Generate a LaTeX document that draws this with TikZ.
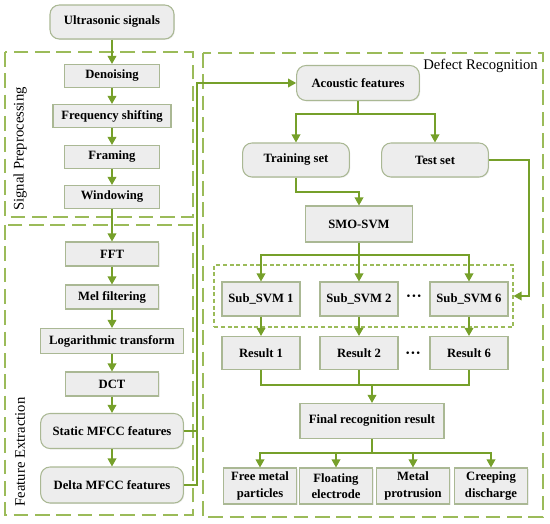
\documentclass[tikz,border=0pt]{standalone}
\usepackage{fontspec}
\setmainfont{Liberation Serif}
\usetikzlibrary{arrows.meta,shadows}
\definecolor{dashgreen}{HTML}{9BBB59}
\definecolor{linegreen}{HTML}{76A02A}
\definecolor{boxborder}{HTML}{AAB894}
\definecolor{boxfill}{HTML}{EDEDED}
\tikzset{
  box/.style={draw=boxborder, line width=0.8pt, fill=boxfill, inner sep=0pt,
    font=\fontsize{9.5}{12.5}\selectfont\bfseries, align=center,
    drop shadow={opacity=0.15, shadow xshift=0.7pt, shadow yshift=-0.7pt}},
  rbox/.style={box, rounded corners=7pt},
  sz/.style 2 args={minimum width=#1pt, minimum height=#2pt},
  conn/.style={draw=linegreen, line width=1pt},
  arr/.style={conn, -{Triangle[width=6.5pt,length=6pt]}},
  group/.style={draw=dashgreen, line width=1.6pt, dash pattern=on 11pt off 5pt},
  subgroup/.style={draw=dashgreen, line width=1.1pt, dash pattern=on 3pt off 2pt, inner sep=0pt},
  grouplabel/.style={font=\fontsize{11}{13}\selectfont, inner sep=0pt},
  dots/.style={font=\fontsize{12}{12}\selectfont\bfseries, inner sep=0pt}
}
\begin{document}
\begin{tikzpicture}[x=0.75pt, y=-0.75pt]
\useasboundingbox (0,0) rectangle (550,524);
% group frames
\draw[group] (5,52) rectangle (193,217);
\draw[group] (5,225) rectangle (193,515);
\draw[group] (203,53) rectangle (543,517);
\node[grouplabel, rotate=90] (lsp) at (20,149) {Signal Preprocessing};
\node[grouplabel, rotate=90] (lfe) at (20,452) {Feature Extraction};
\node[grouplabel, anchor=east] (ldr) at (538,66) {Defect Recognition};
% left column
\node[rbox, sz={93}{25.5}] (us) at (112,22) {Ultrasonic signals};
\node[box, sz={71.25}{17.25}] (den) at (112,76) {Denoising};
\node[box, sz={88.5}{17.25}] (freq) at (112,116) {Frequency shifting};
\node[box, sz={71.25}{17.25}] (fram) at (112,157) {Framing};
\node[box, sz={71.25}{17.25}] (win) at (112,197) {Windowing};
\node[box, sz={70}{18}] (fft) at (112,254) {FFT};
\node[box, sz={70}{18}] (mel) at (112,297) {Mel filtering};
\node[box, sz={107}{18.75}] (log) at (112,341) {Logarithmic transform};
\node[box, sz={70}{18}] (dct) at (112,384) {DCT};
\node[rbox, sz={107}{26.25}] (static) at (112,431) {Static MFCC features};
\node[rbox, sz={107}{27}] (delta) at (112,485) {Delta MFCC features};
% right column
\node[rbox, sz={92}{26.25}] (ac) at (358,83) {Acoustic features};
\node[rbox, sz={80}{25.5}] (train) at (296,160) {Training set};
\node[rbox, sz={80}{25.5}] (test) at (435,160) {Test set};
\node[box, sz={80}{27}] (smo) at (359,224) {SMO-SVM};
\node[subgroup, sz={224}{46.5}] (grp) at (363.5,296) {};
\node[box, sz={58.5}{25.5}] (sub1) at (261,299) {Sub\_SVM 1};
\node[box, sz={58.5}{25.5}] (sub2) at (359,299) {Sub\_SVM 2};
\node[box, sz={58.5}{25.5}] (sub6) at (469,299) {Sub\_SVM 6};
\node[dots] (d1) at (414,298) {···};
\node[box, sz={58.5}{24.75}] (res1) at (261,353) {Result 1};
\node[box, sz={58.5}{24.75}] (res2) at (359,353) {Result 2};
\node[box, sz={58.5}{24.75}] (res6) at (469,353) {Result 6};
\node[dots] (d2) at (413,355) {···};
\node[box, sz={108}{26.25}] (final) at (372,421) {Final recognition result};
\node[box, sz={55}{27}] (c1) at (260,486) {Free metal\\particles};
\node[box, sz={55}{27}] (c2) at (336,486) {Floating\\electrode};
\node[box, sz={55}{27}] (c3) at (413,486) {Metal\\protrusion};
\node[box, sz={55}{27}] (c4) at (491,486) {Creeping\\discharge};
% coordinates
\coordinate (busTop) at (197,83);
\coordinate (busS) at (197,431);
\coordinate (busD) at (197,485);
\coordinate (split1) at (358,114);
\coordinate (tr1) at (296,192);
\coordinate (te1) at (529,160);
\coordinate (te2) at (529,296);
\coordinate (smo1) at (359,255);
\coordinate (rj) at (372,385);
\coordinate (fj) at (372,453);
% left connectors
\draw[arr] (us) -- (den);
\draw[arr] (den) -- (freq);
\draw[arr] (freq) -- (fram);
\draw[arr] (fram) -- (win);
\draw[arr] (win) -- (fft);
\draw[arr] (fft) -- (mel);
\draw[arr] (mel) -- (log);
\draw[arr] (log) -- (dct);
\draw[arr] (dct) -- (static);
\draw[arr] (static) -- (delta);
\draw[conn] (delta.east) -- (busD) -- (busS);
\draw[arr] (static.east) -- (busS) -- (busTop) -- (ac.west);
% right connectors
\draw[conn] (ac.south) -- (split1);
\draw[arr] (split1) -| (train.north);
\draw[arr] (split1) -| (test.north);
\draw[arr] (train.south) -- (tr1) -| (smo.north);
\draw[arr] (test.east) -- (te1) -- (te2) -- (grp.east);
\draw[conn] (smo.south) -- (smo1);
\draw[arr] (smo1) -| (sub1.north);
\draw[arr] (smo1) -- (sub2.north);
\draw[arr] (smo1) -| (sub6.north);
\draw[arr] (sub1) -- (res1);
\draw[arr] (sub2) -- (res2);
\draw[arr] (sub6) -- (res6);
\draw[conn] (res1.south) |- (rj);
\draw[conn] (res6.south) |- (rj);
\draw[conn] (res2.south) -- (res2.south |- rj);
\draw[arr] (rj) -- (final.north);
\draw[conn] (final.south) -- (fj);
\draw[arr] (fj) -| (c1.north);
\draw[arr] (fj) -| (c2.north);
\draw[arr] (fj) -| (c3.north);
\draw[arr] (fj) -| (c4.north);
\end{tikzpicture}
\end{document}
